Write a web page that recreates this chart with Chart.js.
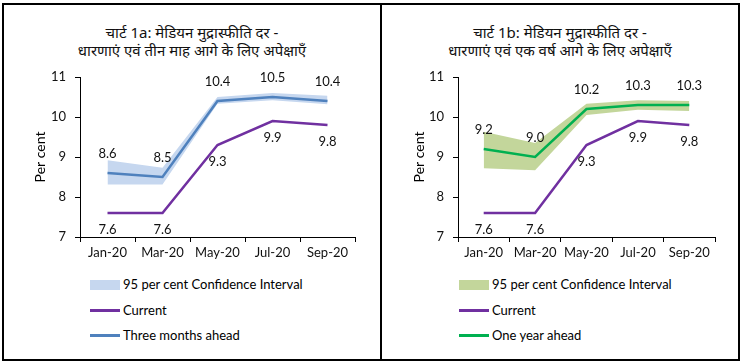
<!DOCTYPE html>
<html>
<head>
<meta charset="utf-8">
<script src="https://cdn.jsdelivr.net/npm/chart.js@4"></script>
<style>
    body { margin: 0; background: #fff; }
    #page { position: relative; width: 744px; height: 363px; font-family: Lato, "Noto Sans", sans-serif; }
    .frame { position: absolute; left: 2px; top: 3px; width: 738px; height: 358px; box-sizing: border-box; border: 2px solid #000; }
    .divider { position: absolute; left: 380px; top: 3px; width: 2px; height: 358px; background: #000; }
    .title { position: absolute; top: 23px; text-align: center; font-family: "Noto Sans", sans-serif; font-size: 15px; line-height: 18px; color: #111; }
    .wrap { position: absolute; top: 0; height: 265px; }
    .legend { position: absolute; top: 274px; font-size: 13px; color: #000; }
    .legend div { height: 25.5px; line-height: 20px; white-space: nowrap; }
    .sw { display: inline-block; width: 30px; vertical-align: middle; margin-right: 3px; position: relative; top: -1px; }
</style>
</head>
<body>
<div id="page">
    <div class="frame"></div>
    <div class="divider"></div>

    <div class="title" style="left:4px;width:376px;">चार्ट 1a: मेडियन मुद्रास्फीति दर -<br>धारणाएं एवं तीन माह आगे के लिए अपेक्षाएँ</div>
    <div class="title" style="left:382px;width:356px;">चार्ट 1b: मेडियन मुद्रास्फीति दर -<br>धारणाएं एवं एक वर्ष आगे के लिए अपेक्षाएँ</div>

    <div class="wrap" style="left:0;width:380px;"><canvas id="chart1a"></canvas></div>
    <div class="wrap" style="left:382px;width:357px;"><canvas id="chart1b"></canvas></div>

    <div class="legend" style="left:90px;">
        <div><span class="sw" style="height:10px;background:#c6d7ef;"></span>95 per cent Confidence Interval</div>
        <div><span class="sw" style="height:3px;background:#7030a0;"></span>Current</div>
        <div><span class="sw" style="height:3px;background:#4f81bd;"></span>Three months ahead</div>
    </div>
    <div class="legend" style="left:459px;">
        <div><span class="sw" style="height:10px;background:#c3d69b;"></span>95 per cent Confidence Interval</div>
        <div><span class="sw" style="height:3px;background:#7030a0;"></span>Current</div>
        <div><span class="sw" style="height:3px;background:#00b050;"></span>One year ahead</div>
    </div>
</div>

<script>
// data
var months = ['Jan-20', 'Mar-20', 'May-20', 'Jul-20', 'Sep-20'];
var yTicks = [7, 8, 9, 10, 11];
var current = [7.6, 7.6, 9.3, 9.9, 9.8];
var threeMonths = [8.6, 8.5, 10.4, 10.5, 10.4];
var threeMonthsLow = [8.31, 8.31, 10.33, 10.42, 10.32];
var threeMonthsHigh = [8.92, 8.73, 10.5, 10.6, 10.53];
var oneYear = [9.2, 9.0, 10.2, 10.3, 10.3];
var oneYearLow = [8.72, 8.67, 10.05, 10.18, 10.15];
var oneYearHigh = [9.63, 9.35, 10.33, 10.42, 10.4];

var tickFont = { family: 'Lato, "Noto Sans", sans-serif', size: 13 };

// writes the value above or below each point of a flagged dataset
var valueLabels = {
    id: 'valueLabels',
    afterDatasetsDraw: function (chart) {
        var ctx = chart.ctx;
        ctx.save();
        ctx.font = '13px Lato, "Noto Sans", sans-serif';
        ctx.fillStyle = '#111';
        ctx.textAlign = 'center';
        ctx.textBaseline = 'middle';
        chart.data.datasets.forEach(function (ds, i) {
            if (!ds.labelPos) {
                return;
            }
            var meta = chart.getDatasetMeta(i);
            meta.data.forEach(function (pt, j) {
                var dy = ds.labelPos === 'above' ? -19 : 17;
                ctx.fillText(ds.data[j].toFixed(1), pt.x, pt.y + dy);
            });
        });
        ctx.restore();
    }
};

function makeChart(id, low, high, ahead, aheadColor, bandColor, padLeft, yWidth, padRight) {
    var ctx = document.getElementById(id);
    if (!ctx || !window.Chart) {
        return;
    }
    new Chart(ctx, {
        type: 'line',
        data: {
            labels: months,
            datasets: [
                { data: high, fill: '+1', backgroundColor: bandColor, borderWidth: 0, pointRadius: 0, order: 2 },
                { data: low, fill: false, borderWidth: 0, pointRadius: 0, order: 2 },
                { data: current, borderColor: '#7030a0', borderWidth: 2.5, pointRadius: 0, fill: false, order: 1, labelPos: 'below' },
                { data: ahead, borderColor: aheadColor, borderWidth: 2.5, pointRadius: 0, fill: false, order: 0, labelPos: 'above' }
            ]
        },
        options: {
            responsive: true,
            maintainAspectRatio: false,
            animation: false,
            layout: { padding: { top: 77, left: padLeft, right: padRight, bottom: 0 } },
            plugins: { legend: { display: false }, tooltip: { enabled: false } },
            scales: {
                x: {
                    offset: true,
                    grid: { display: true, drawOnChartArea: false, drawTicks: true, tickLength: 5, color: '#000', offset: true },
                    border: { color: '#000', width: 1 },
                    ticks: { color: '#111', font: tickFont, padding: 3, maxRotation: 0 },
                    afterFit: function (s) { s.height = 28; }
                },
                y: {
                    min: 7,
                    max: 11,
                    afterBuildTicks: function (s) { s.ticks = yTicks.map(function (v) { return { value: v }; }); },
                    grid: { display: true, drawOnChartArea: false, drawTicks: true, tickLength: 5, color: '#000' },
                    border: { color: '#000', width: 1 },
                    ticks: { color: '#111', font: tickFont, padding: 9 },
                    title: { display: true, text: 'Per cent', color: '#000', font: { family: 'Lato, "Noto Sans", sans-serif', size: 14 }, padding: { top: 4, bottom: 4 } },
                    afterFit: function (s) { s.width = yWidth; }
                }
            }
        },
        plugins: [valueLabels]
    });
}

makeChart('chart1a', threeMonthsLow, threeMonthsHigh, threeMonths, '#4f81bd', '#c6d7ef', 28, 52, 25);
makeChart('chart1b', oneYearLow, oneYearHigh, oneYear, '#00b050', '#c3d69b', 25, 51, 24);
</script>
</body>
</html>
